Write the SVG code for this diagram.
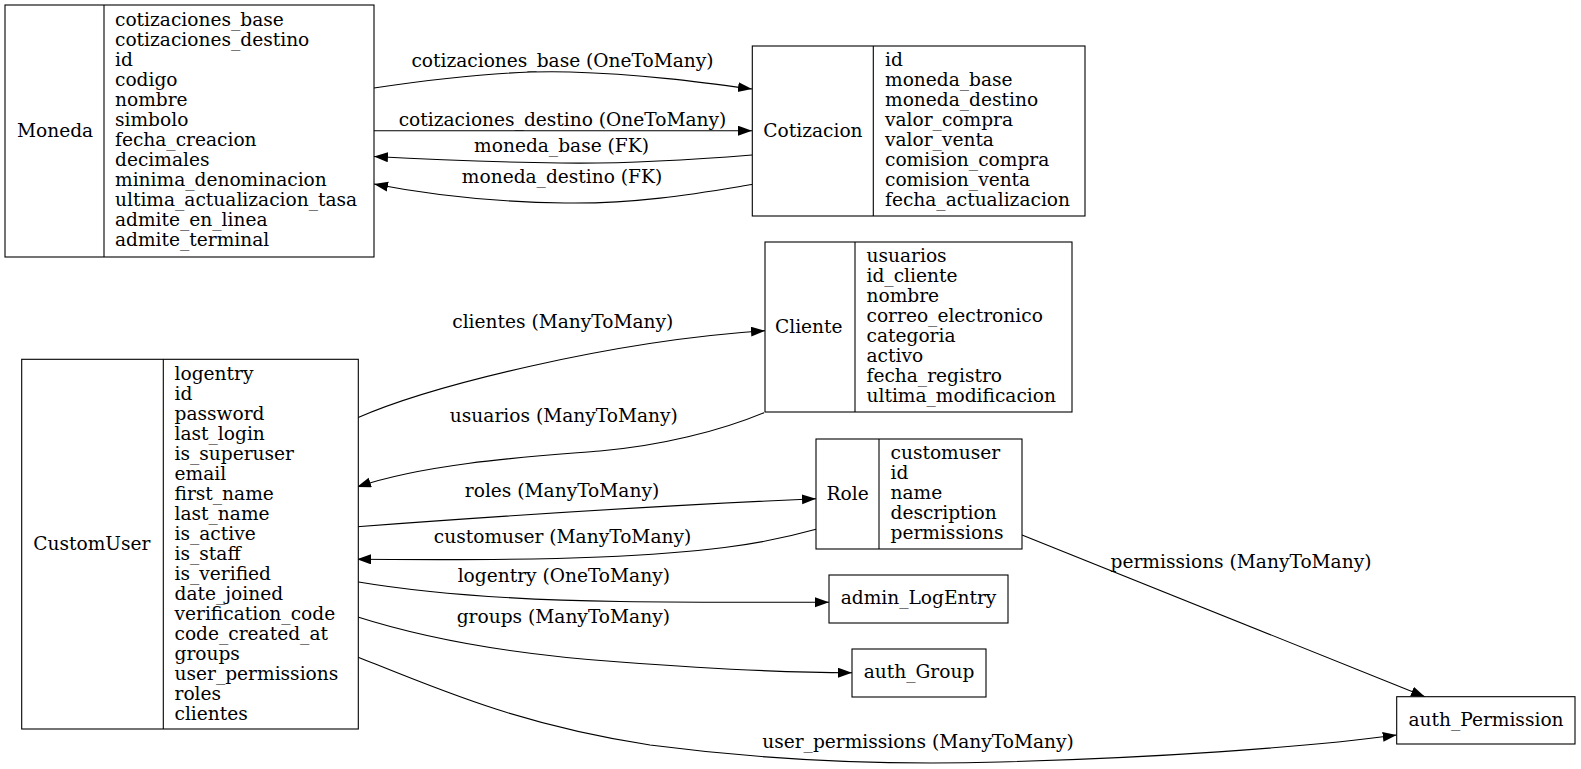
<svg xmlns="http://www.w3.org/2000/svg" width="1581" height="769" viewBox="0 0 1581 769">
  <style>
    text { font-family: "DejaVu Serif", "Liberation Serif", serif; font-size: 18.6px; fill: #000; }
    .box { fill: #fff; stroke: #000; stroke-width: 1.1; }
    .div { stroke: #000; stroke-width: 1.1; }
    .edge { fill: none; stroke: #000; stroke-width: 1.1; marker-end: url(#arrow); }
    .lbl { text-anchor: middle; }
    .mid { text-anchor: middle; }
  </style>
  <defs>
    <marker id="arrow" markerUnits="userSpaceOnUse" markerWidth="16" markerHeight="12" refX="14" refY="5" orient="auto">
      <path d="M0,0 L14,5 L0,10 Z" fill="#000"/>
    </marker>
  </defs>
  <rect width="1581" height="769" fill="#fff"/>

  <!-- relations -->
  <g id="connectors">
    <path class="edge" d="M374,88 C440,78 510,70 570,72 C640,74 700,82 752,89"/>
    <path class="edge" d="M374,130.7 L752,130.7"/>
    <path class="edge" d="M752,155 C690,160 620,164 560,163 C490,162 420,159 374,156.5"/>
    <path class="edge" d="M752,184.5 C700,193 640,204 565,203 C490,202 420,193 374,184"/>
    <path class="edge" d="M357,418 C430,386 610,341 765,330.7"/>
    <path class="edge" d="M764,412.7 C720,431 660,446 600,451 C540,456 430,462 357,487"/>
    <path class="edge" d="M357,526.7 C500,516 650,506 816,498.7"/>
    <path class="edge" d="M816,529.3 C760,545 700,553 600,557 C500,561 420,559.5 357,559.3"/>
    <path class="edge" d="M357,581.7 C430,594 520,600 620,601.5 C700,602.5 780,602.3 829,602.3"/>
    <path class="edge" d="M357,616.7 C430,640 520,655 620,662 C700,668 780,672.7 852,672.7"/>
    <path class="edge" d="M357,656.7 C440,690 520,725 650,745 C780,762 900,765 1000,762 C1150,758 1300,748 1396.7,735"/>
    <path class="edge" d="M1022,535 L1425,696.7"/>

    <text class="lbl" x="562.5" y="66.7">cotizaciones_base (OneToMany)</text>
    <text class="lbl" x="562.5" y="125.7">cotizaciones_destino (OneToMany)</text>
    <text class="lbl" x="561.5" y="151.7">moneda_base (FK)</text>
    <text class="lbl" x="562" y="182.7">moneda_destino (FK)</text>
    <text class="lbl" x="562.8" y="328.3">clientes (ManyToMany)</text>
    <text class="lbl" x="563.8" y="421.7">usuarios (ManyToMany)</text>
    <text class="lbl" x="562" y="496.7">roles (ManyToMany)</text>
    <text class="lbl" x="562.5" y="543.3">customuser (ManyToMany)</text>
    <text class="lbl" x="563.8" y="581.5">logentry (OneToMany)</text>
    <text class="lbl" x="563.3" y="622.5">groups (ManyToMany)</text>
    <text class="lbl" x="918" y="748.3">user_permissions (ManyToMany)</text>
    <text class="lbl" x="1241" y="568">permissions (ManyToMany)</text>
  </g>

  <!-- Moneda -->
  <g id="Moneda">
    <rect class="box" x="5" y="5" width="369" height="252"/>
    <line class="div" x1="104" y1="5" x2="104" y2="257"/>
    <text x="17" y="136.7">Moneda</text>
    <text x="115" y="26">cotizaciones_base</text>
    <text x="115" y="46">cotizaciones_destino</text>
    <text x="115" y="66">id</text>
    <text x="115" y="86">codigo</text>
    <text x="115" y="106">nombre</text>
    <text x="115" y="126">simbolo</text>
    <text x="115" y="146">fecha_creacion</text>
    <text x="115" y="166">decimales</text>
    <text x="115" y="186">minima_denominacion</text>
    <text x="115" y="206">ultima_actualizacion_tasa</text>
    <text x="115" y="226">admite_en_linea</text>
    <text x="115" y="246">admite_terminal</text>
  </g>

  <!-- Cotizacion -->
  <g id="Cotizacion">
    <rect class="box" x="752.3" y="46" width="332.7" height="170"/>
    <line class="div" x1="873.3" y1="46" x2="873.3" y2="216"/>
    <text x="763.3" y="136.7">Cotizacion</text>
    <text x="885" y="66">id</text>
    <text x="885" y="86">moneda_base</text>
    <text x="885" y="106">moneda_destino</text>
    <text x="885" y="126">valor_compra</text>
    <text x="885" y="146">valor_venta</text>
    <text x="885" y="166">comision_compra</text>
    <text x="885" y="186">comision_venta</text>
    <text x="885" y="206">fecha_actualizacion</text>
  </g>

  <!-- Cliente -->
  <g id="Cliente">
    <rect class="box" x="765" y="242" width="307" height="170"/>
    <line class="div" x1="855" y1="242" x2="855" y2="412"/>
    <text x="775" y="332.7">Cliente</text>
    <text x="866.5" y="262">usuarios</text>
    <text x="866.5" y="282">id_cliente</text>
    <text x="866.5" y="302">nombre</text>
    <text x="866.5" y="322">correo_electronico</text>
    <text x="866.5" y="342">categoria</text>
    <text x="866.5" y="362">activo</text>
    <text x="866.5" y="382">fecha_registro</text>
    <text x="866.5" y="402">ultima_modificacion</text>
  </g>

  <!-- Role -->
  <g id="Role">
    <rect class="box" x="816" y="439" width="206" height="110"/>
    <line class="div" x1="879" y1="439" x2="879" y2="549"/>
    <text x="826.5" y="499.5">Role</text>
    <text x="890.5" y="459">customuser</text>
    <text x="890.5" y="479">id</text>
    <text x="890.5" y="499">name</text>
    <text x="890.5" y="519">description</text>
    <text x="890.5" y="539">permissions</text>
  </g>

  <!-- CustomUser -->
  <g id="CustomUser">
    <rect class="box" x="21.7" y="359.3" width="336.6" height="369.7"/>
    <line class="div" x1="163.3" y1="359.3" x2="163.3" y2="729"/>
    <text x="33.3" y="550">CustomUser</text>
    <text x="174.5" y="379.5">logentry</text>
    <text x="174.5" y="399.5">id</text>
    <text x="174.5" y="419.5">password</text>
    <text x="174.5" y="439.5">last_login</text>
    <text x="174.5" y="459.5">is_superuser</text>
    <text x="174.5" y="479.5">email</text>
    <text x="174.5" y="499.5">first_name</text>
    <text x="174.5" y="519.5">last_name</text>
    <text x="174.5" y="539.5">is_active</text>
    <text x="174.5" y="559.5">is_staff</text>
    <text x="174.5" y="579.5">is_verified</text>
    <text x="174.5" y="599.5">date_joined</text>
    <text x="174.5" y="619.5">verification_code</text>
    <text x="174.5" y="639.5">code_created_at</text>
    <text x="174.5" y="659.5">groups</text>
    <text x="174.5" y="679.5">user_permissions</text>
    <text x="174.5" y="699.5">roles</text>
    <text x="174.5" y="719.5">clientes</text>
  </g>

  <!-- admin_LogEntry -->
  <g id="admin_LogEntry">
    <rect class="box" x="829" y="575" width="179" height="48"/>
    <text class="mid" x="918.5" y="604">admin_LogEntry</text>
  </g>

  <!-- auth_Group -->
  <g id="auth_Group">
    <rect class="box" x="852" y="649" width="134" height="48"/>
    <text class="mid" x="919" y="677.5">auth_Group</text>
  </g>

  <!-- auth_Permission -->
  <g id="auth_Permission">
    <rect class="box" x="1396.7" y="696.7" width="178.3" height="47.3"/>
    <text class="mid" x="1486" y="725.7">auth_Permission</text>
  </g>
</svg>
